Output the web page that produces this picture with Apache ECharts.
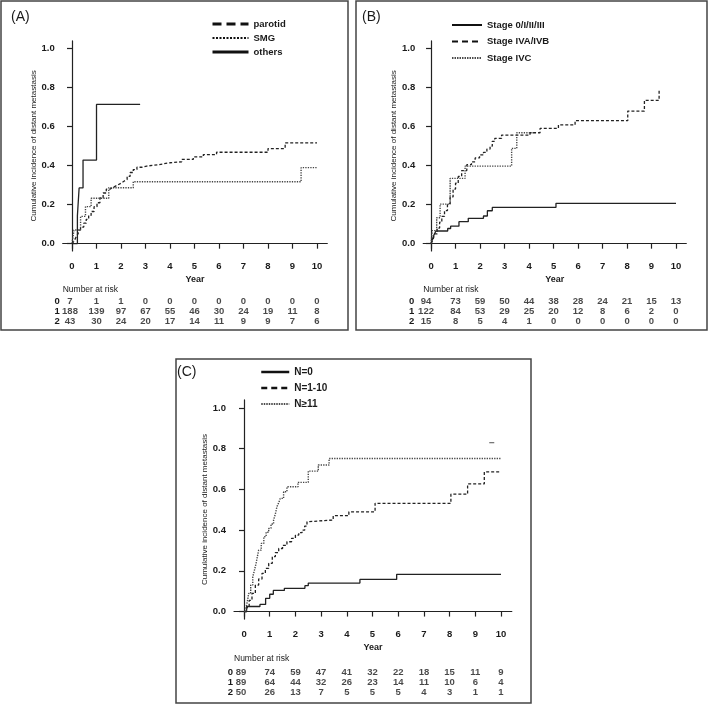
<!DOCTYPE html>
<html><head><meta charset="utf-8">
<script src="https://cdn.jsdelivr.net/npm/echarts@6/dist/echarts.min.js"></script>
<style>html,body{margin:0;padding:0;background:#fff}#c{width:709px;height:706px}</style>
</head><body><div id="c"></div>
<script>
// ---------- shared ticks ----------
const xTicks = [0,1,2,3,4,5,6,7,8,9,10];
const yTicks = [0,0.2,0.4,0.6,0.8,1.0];
const riskYears = [0,1,2,3,4,5,6,7,8,9,10];
const riskRows = ['0','1','2'];
const yTitle = 'Cumulative incidence of distant metastasis';

// ---------- Panel A ----------
const namesA = ['parotid','SMG','others'];
const parotidA = [[0,0],[0.08,0.012],[0.15,0.03],[0.22,0.045],[0.3,0.065],[0.38,0.085],[0.48,0.105],[0.58,0.125],[0.68,0.145],[0.78,0.165],[0.9,0.19],[1.02,0.21],[1.14,0.235],[1.27,0.26],[1.4,0.28],[1.55,0.29],[1.7,0.3],[1.85,0.31],[2.0,0.32],[2.12,0.33],[2.25,0.345],[2.37,0.365],[2.5,0.38],[2.65,0.392],[2.85,0.398],[3.05,0.405],[3.52,0.415],[4.0,0.42],[4.48,0.432],[4.95,0.445],[5.36,0.457],[5.9,0.469],[8.0,0.488],[8.7,0.517],[10,0.517]];
const smgA = [[0,0],[0.08,0.07],[0.35,0.14],[0.55,0.19],[0.78,0.233],[1.5,0.287],[2.5,0.318],[9.35,0.39],[10,0.39]];
const othersA = [[0,0],[0.22,0.143],[0.29,0.286],[0.45,0.429],[1.0,0.714],[2.78,0.714]];
const riskA0 = [7,1,1,0,0,0,0,0,0,0,0];
const riskA1 = [188,139,97,67,55,46,30,24,19,11,8];
const riskA2 = [43,30,24,20,17,14,11,9,9,7,6];

// ---------- Panel B ----------
const namesB = ['Stage 0/I/II/III','Stage IVA/IVB','Stage IVC'];
const stageLowB = [[0,0],[0.05,0.02],[0.12,0.045],[0.2,0.065],[0.68,0.078],[0.8,0.09],[1.14,0.113],[1.52,0.13],[2.14,0.142],[2.3,0.169],[2.5,0.186],[5.1,0.207],[10,0.207]];
const stageIVABB = [[0,0],[0.08,0.02],[0.15,0.05],[0.25,0.08],[0.35,0.11],[0.44,0.14],[0.55,0.17],[0.67,0.205],[0.78,0.24],[0.9,0.28],[1.0,0.31],[1.11,0.345],[1.25,0.375],[1.46,0.405],[1.65,0.42],[1.8,0.44],[1.98,0.455],[2.14,0.468],[2.28,0.485],[2.41,0.5],[2.5,0.525],[2.6,0.54],[2.88,0.557],[4.04,0.569],[4.45,0.591],[5.2,0.609],[5.88,0.631],[8.03,0.68],[8.71,0.735],[9.31,0.788]];
const stageIVCB = [[0,0],[0.05,0.067],[0.23,0.133],[0.37,0.203],[0.78,0.335],[1.39,0.398],[3.29,0.489],[3.5,0.569],[4.2,0.569]];
const riskB0 = [94,73,59,50,44,38,28,24,21,15,13];
const riskB1 = [122,84,53,29,25,20,12,8,6,2,0];
const riskB2 = [15,8,5,4,1,0,0,0,0,0,0];

// ---------- Panel C ----------
const namesC = ['N=0','N=1-10','N\u226511'];
const n0C = [[0,0],[0.1,0.025],[0.62,0.035],[0.84,0.065],[1.0,0.085],[1.14,0.104],[1.57,0.114],[2.37,0.127],[2.5,0.14],[4.51,0.158],[5.94,0.183],[10,0.183]];
const n1to10C = [[0,0],[0.1,0.02],[0.2,0.055],[0.31,0.089],[0.44,0.13],[0.57,0.16],[0.7,0.188],[0.83,0.212],[0.96,0.237],[1.1,0.27],[1.22,0.29],[1.35,0.31],[1.5,0.325],[1.67,0.343],[1.85,0.36],[2.0,0.376],[2.13,0.388],[2.26,0.4],[2.36,0.42],[2.45,0.441],[2.5,0.45],[3.47,0.471],[4.08,0.49],[5.1,0.532],[8.05,0.577],[8.7,0.627],[9.35,0.686],[9.96,0.686]];
const n11C = [[0,0],[0.08,0.02],[0.13,0.05],[0.18,0.089],[0.26,0.13],[0.34,0.171],[0.4,0.2],[0.47,0.237],[0.52,0.27],[0.57,0.302],[0.67,0.335],[0.77,0.368],[0.86,0.39],[0.96,0.409],[1.05,0.43],[1.15,0.45],[1.22,0.48],[1.28,0.515],[1.35,0.535],[1.41,0.556],[1.54,0.589],[1.67,0.613],[2.1,0.635],[2.5,0.69],[2.89,0.72],[3.31,0.752],[10,0.752]];
const censorC = [[9.64,0.83]];
const riskC0 = [89,74,59,47,41,32,22,18,15,11,9];
const riskC1 = [89,64,44,32,26,23,14,11,10,6,4];
const riskC2 = [50,26,13,7,5,5,5,4,3,1,1];

// ---------- build ----------
const FONT = '"Liberation Sans", Arial, sans-serif';
const INK = '#1a1a1a';
const chart = echarts.init(document.getElementById('c'), null, {renderer:'canvas'});

const panels = [
  {grid:{left:62.7, top:40.9, width:264.6, height:210}, xmin:-0.38, ymax:1.04,
   table:{top:297, height:29, rowMargin:3, firstOffset:-2}, nar:290,
   series:[[namesA[0],parotidA,'dash'],[namesA[1],smgA,'dot'],[namesA[2],othersA,'solid']],
   risk:[riskA0,riskA1,riskA2],
   legend:{left:211, top:19, itemWidth:36, itemGap:4, fs:9.5,
     styles:[{type:[9,5],width:3},{type:[2,1.5],width:2},{type:'solid',width:3}]}},
  {grid:{left:423.2, top:40.9, width:263.1, height:210}, xmin:-0.32, ymax:1.04,
   table:{top:297, height:29, rowMargin:9, firstOffset:-5}, nar:290,
   series:[[namesB[0],stageLowB,'solid'],[namesB[1],stageIVABB,'dash'],[namesB[2],stageIVCB,'dot']],
   risk:[riskB0,riskB1,riskB2],
   legend:{left:451, top:20, itemWidth:30, itemGap:6.5, fs:9.5,
     styles:[{type:'solid',width:2},{type:[6,4],width:2},{type:[1.5,1],width:1.5}]}},
  {grid:{left:234, top:399.9, width:277.8, height:219.2}, xmin:-0.39, ymax:1.04,
   table:{top:668, height:29, rowMargin:1, firstOffset:-3}, nar:659,
   series:[[namesC[0],n0C,'solid'],[namesC[1],n1to10C,'dash'],[namesC[2],n11C,'dot']],
   risk:[riskC0,riskC1,riskC2],
   legend:{left:260, top:367, itemWidth:28, itemGap:6, fs:10,
     styles:[{type:'solid',width:2.5},{type:[6,4],width:2.5},{type:[1.5,1],width:1.5}]}}
];

const lineTypes = {solid:{type:'solid',color:'#222',width:1.3}, dash:{type:[3,2],color:'#222',width:1.3}, dot:{type:[1.3,1.2],color:'#444',width:1.4}};
const grids=[], xAxes=[], yAxes=[], series=[], legends=[], graphics=[];
const XMAX = 10.42, YMIN = -0.037;
const TICKFS = 9.5;

panels.forEach((p, i) => {
  const g = grids.length;
  grids.push(Object.assign({outerBoundsMode:'none', containLabel:false}, p.grid));
  grids.push({outerBoundsMode:'none', containLabel:false, left:p.grid.left, width:p.grid.width, top:p.table.top, height:p.table.height});
  const axisLine = {show:true, lineStyle:{color:'#222', width:1.2}};
  xAxes.push({type:'value', gridIndex:g, min:p.xmin, max:XMAX, axisLine, splitLine:{show:false},
    axisTick:{show:true, length:5, customValues:xTicks, lineStyle:{color:'#222', width:1.2}},
    axisLabel:{customValues:xTicks, margin:10, fontSize:TICKFS, fontWeight:'bold', color:INK, fontFamily:FONT},
    name:'Year', nameLocation:'middle', nameGap:24, nameMoveOverlap:false,
    nameTextStyle:{fontSize:9, fontWeight:'bold', color:INK, fontFamily:FONT}});
  xAxes.push({type:'value', gridIndex:g+1, min:p.xmin, max:XMAX, show:false});
  yAxes.push({type:'value', gridIndex:g, min:YMIN, max:p.ymax, axisLine, splitLine:{show:false},
    axisTick:{show:true, length:5, customValues:yTicks, lineStyle:{color:'#222', width:1.2}},
    axisLabel:{customValues:yTicks, formatter:v=>v.toFixed(1), margin:8, fontSize:TICKFS, fontWeight:'bold', color:INK, fontFamily:FONT},
    name:yTitle, nameLocation:'middle', nameGap:25, nameMoveOverlap:false,
    nameTextStyle:{fontSize:8, color:INK, fontFamily:FONT}});
  yAxes.push({type:'category', gridIndex:g+1, data:riskRows, inverse:true,
    axisLine:{show:false}, axisTick:{show:false}, splitLine:{show:false},
    axisLabel:{interval:0, margin:p.table.rowMargin, fontSize:TICKFS, fontWeight:'bold', color:INK, fontFamily:FONT}});

  p.series.forEach(([name, data, kind]) => {
    series.push({type:'line', name, data, step:'end', xAxisIndex:g, yAxisIndex:g,
      symbol:'none', silent:true, lineStyle:Object.assign({}, lineTypes[kind]),
      itemStyle:{color:'#222'}});
  });
  p.risk.forEach((vals, r) => {
    series.push({type:'scatter', name:'risk'+i+'_'+r, xAxisIndex:g+1, yAxisIndex:g+1,
      symbolSize:1, itemStyle:{color:'rgba(0,0,0,0)'}, silent:true,
      data: riskYears.map((yr, k) => {
        const d = {value:[yr, r, vals[k]]};
        if (k === 0) d.label = {offset:[p.table.firstOffset,0]};
        return d;
      }),
      label:{show:true, position:'inside', formatter:q=>String(q.value[2]), fontSize:TICKFS, fontWeight:'bold', color:INK, fontFamily:FONT}});
  });

  legends.push({orient:'vertical', left:p.legend.left, top:p.legend.top, padding:0,
    itemWidth:p.legend.itemWidth, itemHeight:10, itemGap:p.legend.itemGap, selectedMode:false,
    itemStyle:{color:'rgba(0,0,0,0)', borderWidth:0, opacity:0},
    textStyle:{fontSize:p.legend.fs, fontWeight:'bold', color:INK, fontFamily:FONT},
    data:p.series.map(([name], k) => ({name, lineStyle:Object.assign({color:'#111'}, p.legend.styles[k])}))});

  graphics.push({type:'text', left:p.grid.left, top:p.nar-5, style:{text:'Number at risk', font:'8.5px '+FONT, fill:INK}});
});

series.push({type:'scatter', name:'censorC', xAxisIndex:4, yAxisIndex:4, data:censorC, silent:true,
  symbol:'rect', symbolSize:[5,1.3], itemStyle:{color:'#555'}});

graphics.push(
  {type:'rect', shape:{x:1, y:1, width:347, height:329}, style:{fill:'none', stroke:'#444', lineWidth:1.5}},
  {type:'rect', shape:{x:356, y:1, width:351, height:329}, style:{fill:'none', stroke:'#444', lineWidth:1.5}},
  {type:'rect', shape:{x:176, y:359, width:355, height:344}, style:{fill:'none', stroke:'#444', lineWidth:1.5}},
  {type:'text', left:11, top:10, style:{text:'(A)', font:'14px '+FONT, fill:INK}},
  {type:'text', left:362, top:10, style:{text:'(B)', font:'14px '+FONT, fill:INK}},
  {type:'text', left:177, top:365, style:{text:'(C)', font:'14px '+FONT, fill:INK}}
);

chart.setOption({animation:false, backgroundColor:'#fff', grid:grids, xAxis:xAxes, yAxis:yAxes,
  series, legend:legends, graphic:graphics});
</script></body></html>
